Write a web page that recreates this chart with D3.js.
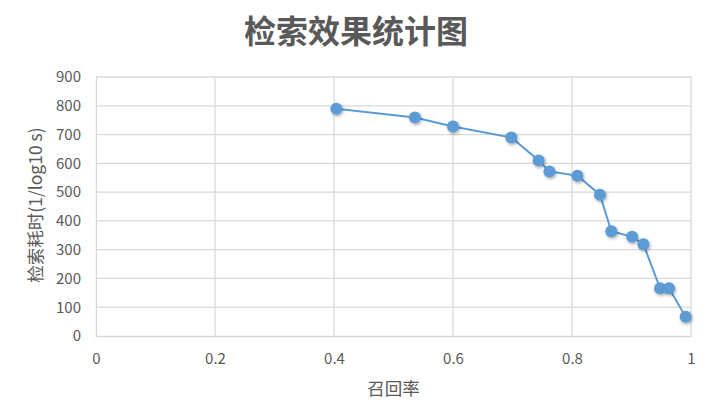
<!DOCTYPE html>
<html><head><meta charset="utf-8">
<script src="https://cdn.jsdelivr.net/npm/d3@7/dist/d3.min.js"></script>
<style>body{margin:0;background:#fff;}svg{display:block;}</style>
</head><body>
<svg id="c" width="715" height="420"></svg>
<script>
const recall = [0.404, 0.536, 0.600, 0.698, 0.744, 0.762, 0.809, 0.847, 0.866, 0.901, 0.920, 0.948, 0.963, 0.991];
const cost = [790, 759, 728, 690, 610, 572, 557, 491, 364, 345, 319, 166, 166, 67];
const xTicks = [0, 0.2, 0.4, 0.6, 0.8, 1];
const yTicks = [0, 100, 200, 300, 400, 500, 600, 700, 800, 900];
const title = "检索效果统计图";
const xTitle = "召回率";
const yTitle = "检索耗时(1/log10 s)";

const svg = d3.select("#c");
const font = "'Noto Sans CJK SC', 'Microsoft YaHei', sans-serif";
const gray = "#595959";
const x = d3.scaleLinear().domain([0, 1]).range([96, 691]);
const y = d3.scaleLinear().domain([0, 900]).range([336, 77]);

const defs = svg.append("defs");
const f = defs.append("filter").attr("id", "sh").attr("x", "-50%").attr("y", "-50%").attr("width", "200%").attr("height", "200%");
f.append("feDropShadow").attr("dx", 1).attr("dy", 1.5).attr("stdDeviation", 1.5).attr("flood-color", "#000").attr("flood-opacity", 0.35);

// grid
svg.append("g").selectAll("line").data(yTicks.slice(1)).join("line")
  .attr("x1", x(0)).attr("x2", x(1)).attr("y1", d => y(d)).attr("y2", d => y(d))
  .attr("stroke", "#d9d9d9").attr("stroke-width", 1.3);
svg.append("g").selectAll("line").data(xTicks.slice(1)).join("line")
  .attr("y1", y(0)).attr("y2", y(900)).attr("x1", d => x(d)).attr("x2", d => x(d))
  .attr("stroke", "#d9d9d9").attr("stroke-width", 1.3);

// axes
const xAxis = svg.append("g").attr("transform", `translate(0,${y(0)})`)
  .call(d3.axisBottom(x).tickValues(xTicks).tickSize(0).tickPadding(17).tickFormat(d => d3.format("")(d)));
const yAxis = svg.append("g").attr("transform", `translate(${x(0)},0)`)
  .call(d3.axisLeft(y).tickValues(yTicks).tickSize(0).tickPadding(15));
[xAxis, yAxis].forEach(g => {
  g.select(".domain").attr("stroke", "#d9d9d9").attr("stroke-width", 1.3);
  g.selectAll("text").attr("fill", gray).attr("font-size", 15).attr("font-family", font);
});

// line
const pts = recall.map((r, i) => [r, cost[i]]);
svg.append("path").datum(pts)
  .attr("d", d3.line().x(d => x(d[0])).y(d => y(d[1])))
  .attr("fill", "none").attr("stroke", "#5B9BD5").attr("stroke-width", 2);

svg.append("g").selectAll("circle").data(pts).join("circle")
  .attr("cx", d => x(d[0])).attr("cy", d => y(d[1])).attr("r", 6)
  .attr("fill", "#5B9BD5").attr("filter", "url(#sh)");

// titles
svg.append("text").attr("x", 356).attr("y", 43).attr("text-anchor", "middle")
  .attr("font-family", font).attr("font-size", 32).attr("font-weight", "bold").attr("fill", gray).text(title);
svg.append("text").attr("x", 393.5).attr("y", 395).attr("text-anchor", "middle")
  .attr("font-family", font).attr("font-size", 17.5).attr("fill", gray).text(xTitle);
svg.append("text").attr("transform", "translate(42,205) rotate(-90)").attr("text-anchor", "middle")
  .attr("font-family", font).attr("font-size", 17.5).attr("fill", gray).text(yTitle);
</script>
</body></html>
